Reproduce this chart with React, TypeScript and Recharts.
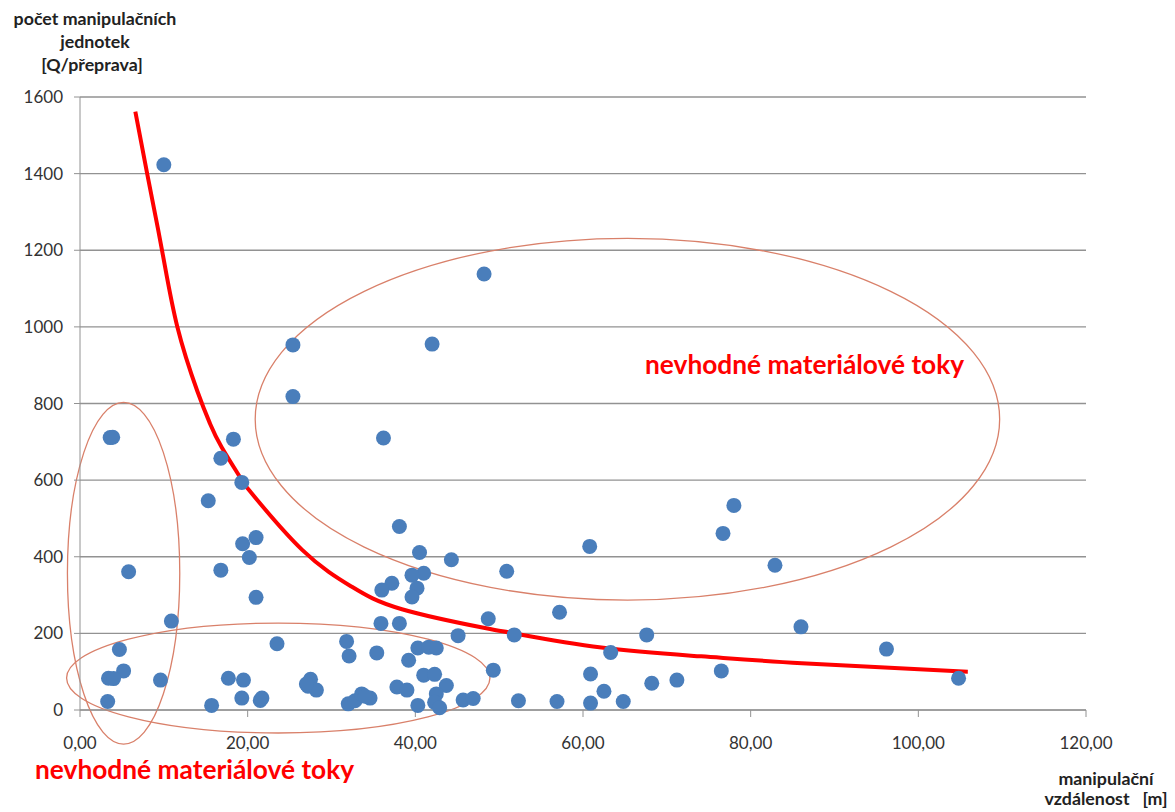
import React from 'react';
import { ComposedChart, Scatter, Line, XAxis, YAxis, CartesianGrid, ReferenceArea } from 'recharts';

// material flows: [manipulation distance (m), number of handling units (Q/transport)]
const flows: [number, number][] = [
  [10.0, 1423], [48.2, 1138], [25.4, 953], [42.0, 955], [25.4, 818],
  [3.6, 711], [3.9, 712], [36.2, 710], [18.3, 707], [16.8, 657],
  [19.3, 594], [15.3, 546], [78.0, 534], [38.1, 479], [76.7, 461],
  [21.0, 450], [19.4, 434], [60.8, 427], [40.5, 411], [20.2, 398],
  [44.3, 392], [16.8, 365], [5.8, 361], [41.0, 357], [50.9, 362],
  [39.6, 352], [37.2, 331], [36.0, 313], [40.2, 318], [39.6, 295],
  [82.9, 378], [21.0, 294], [57.2, 255], [48.7, 238], [10.9, 232],
  [35.9, 226], [38.1, 226], [86.0, 217], [45.1, 194], [51.8, 196],
  [67.6, 196], [23.5, 173], [31.8, 179], [4.7, 158], [63.3, 150],
  [32.1, 141], [35.4, 149], [96.2, 159], [39.2, 130], [40.3, 162],
  [41.6, 164], [42.5, 162], [49.3, 104], [5.2, 102], [76.5, 102],
  [60.9, 94], [9.6, 78], [3.4, 83], [4.0, 82], [17.7, 83],
  [19.5, 78], [27.5, 80], [27.2, 62], [28.2, 52], [27.0, 68],
  [71.2, 78], [68.2, 70], [41.0, 91], [42.3, 93], [43.7, 64],
  [37.8, 60], [39.0, 52], [62.5, 49], [104.8, 83], [3.3, 22],
  [15.7, 12], [19.3, 31], [21.5, 25], [21.7, 31], [32.0, 16],
  [32.8, 24], [33.6, 42], [34.6, 31], [34.0, 36], [40.3, 12],
  [42.5, 42], [42.3, 20], [42.9, 6], [45.7, 26], [46.9, 30],
  [52.3, 24], [56.9, 22], [60.9, 18], [64.8, 22],
];

// power trend line
const trend: [number, number][] = [
  [6.6, 1562], [8.0, 1401], [9.8, 1198], [11.6, 1001], [14.0, 832],
  [15.5, 748], [16.9, 686], [19.3, 600], [20.5, 565], [26.5, 418],
  [32.4, 322], [38.4, 263], [48.3, 214], [51.8, 200], [62.2, 163],
  [74.1, 140], [86.1, 122], [105.9, 100],
];

// annotation ellipses in data units: [x1, x2, y1, y2]
const ellipses: [number, number, number, number][] = [
  [-1.5, 11.9, -89, 803],
  [-1.6, 48.9, -60, 227],
  [20.9, 109.7, 287, 1231],
];

const xTicks = [0, 20, 40, 60, 80, 100, 120];
const xTickLabels = ['0,00', '20,00', '40,00', '60,00', '80,00', '100,00', '120,00'];
const yTicks = [0, 200, 400, 600, 800, 1000, 1200, 1400, 1600];

const yTitle = ['počet manipulačních', 'jednotek', '[Q/přeprava]'];
const xTitle = ['manipulační', 'vzdálenost   [m]'];
const noteText = 'nevhodné materiálové toky';

const points = flows.map(([x, y]) => ({ x, y }));
const trendData = trend.map(([x, y]) => ({ x, y }));

const tickStyle = { fontFamily: 'Lato', fontSize: 17, fill: '#333333' };

const Dot = (p: any) => <circle cx={p.cx} cy={p.cy} r={7.5} fill="#4a7ebb" />;

const EllipseShape = (p: any) => (
  <ellipse
    cx={p.x + p.width / 2}
    cy={p.y + p.height / 2}
    rx={Math.abs(p.width / 2)}
    ry={Math.abs(p.height / 2)}
    fill="none"
    stroke="#d9806a"
    strokeWidth={1.3}
  />
);

export default function App() {
  return (
    <div style={{ position: 'absolute', left: 0, top: 0, width: 1175, height: 812, background: '#fff' }}>
      <ComposedChart
        width={1175}
        height={812}
        margin={{ top: 97, right: 89, bottom: 72, left: 20 }}
      >
        <CartesianGrid vertical={false} stroke="#929292" strokeWidth={1.3} />
        <XAxis
          type="number"
          dataKey="x"
          domain={[0, 120]}
          ticks={xTicks}
          tickFormatter={(v: number) => xTickLabels[xTicks.indexOf(v)] ?? String(v)}
          height={30}
          tickSize={7}
          tickMargin={20}
          stroke="#929292"
          tick={tickStyle}
          interval={0}
        />
        <YAxis
          type="number"
          dataKey="y"
          domain={[0, 1600]}
          ticks={yTicks}
          width={60}
          tickSize={6}
          tickMargin={11}
          stroke="#929292"
          tick={tickStyle}
          interval={0}
        />
        <Line
          data={trendData}
          dataKey="y"
          type="natural"
          stroke="#ff0000"
          strokeWidth={4}
          dot={false}
          isAnimationActive={false}
        />
        <Scatter data={points} dataKey="y" shape={Dot} isAnimationActive={false} />
        {ellipses.map(([x1, x2, y1, y2], i) => (
          <ReferenceArea
            key={i}
            x1={x1}
            x2={x2}
            y1={y1}
            y2={y2}
            ifOverflow="visible"
            shape={EllipseShape}
          />
        ))}
      </ComposedChart>
      <svg
        width={1175}
        height={812}
        style={{ position: 'absolute', left: 0, top: 0, pointerEvents: 'none' }}
      >
        <g fontFamily="Lato" fontWeight="bold" fontSize={17.8} fill="#222222" textAnchor="middle">
          <text x={95} y={25}>{yTitle[0]}</text>
          <text x={95} y={48}>{yTitle[1]}</text>
          <text x={92} y={71}>{yTitle[2]}</text>
          <text x={1106} y={785}>{xTitle[0]}</text>
          <text x={1106} y={805} style={{ whiteSpace: 'pre' }}>{xTitle[1]}</text>
        </g>
        <g fontFamily="Lato" fontWeight="bold" fontSize={26.3} fill="#ff0000">
          <text x={645} y={374}>{noteText}</text>
          <text x={35} y={779}>{noteText}</text>
        </g>
      </svg>
    </div>
  );
}
